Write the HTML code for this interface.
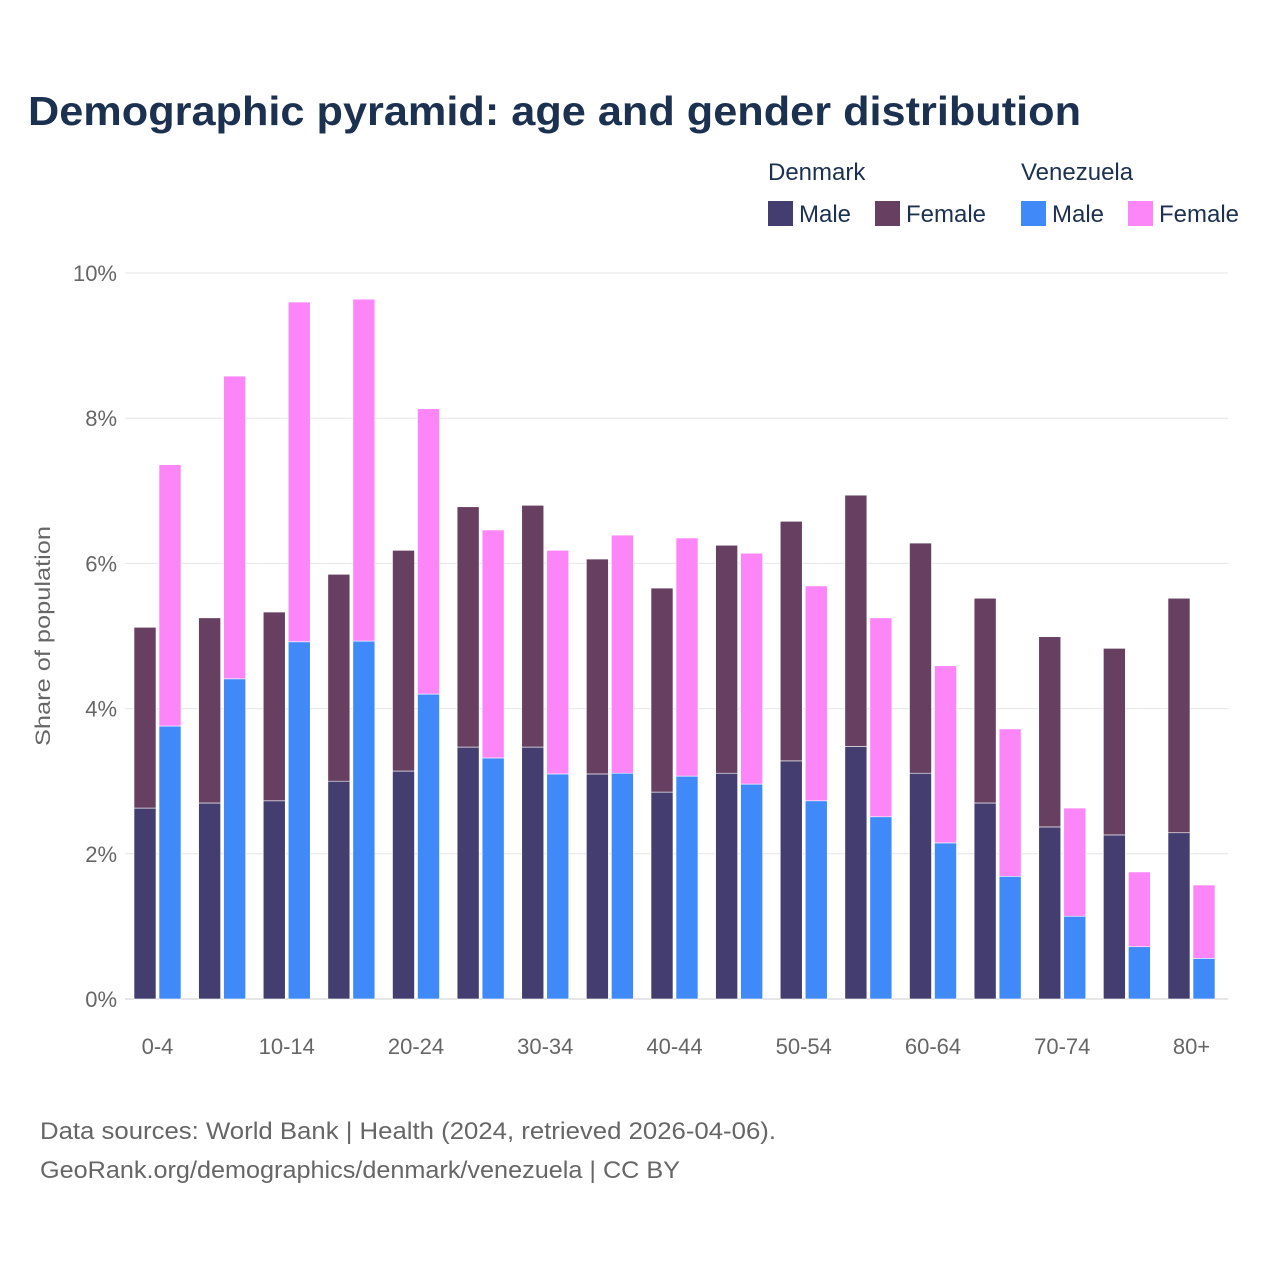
<!DOCTYPE html>
<html><head><meta charset="utf-8"><style>
body{margin:0;background:#fff;font-family:"Liberation Sans",sans-serif}
svg text{font-family:"Liberation Sans",sans-serif}
</style></head><body>
<svg id="chart" width="1280" height="1280" viewBox="0 0 1280 1280">
<text x="28" y="125" font-size="41" font-weight="bold" fill="#1c3050" textLength="1053" lengthAdjust="spacingAndGlyphs">Demographic pyramid: age and gender distribution</text>
<g font-size="24" fill="#1c3050">
<text x="768" y="180">Denmark</text>
<text x="1021" y="180">Venezuela</text>
<g><rect x="768" y="201" width="25" height="25" fill="#433e6f"/><text x="799" y="222">Male</text></g>
<g><rect x="875" y="201" width="25" height="25" fill="#673f60"/><text x="906" y="222">Female</text></g>
<g><rect x="1021" y="201" width="25" height="25" fill="#3f8af8"/><text x="1052" y="222">Male</text></g>
<g><rect x="1128" y="201" width="25" height="25" fill="#fc86f8"/><text x="1159" y="222">Female</text></g>
</g>
<g id="grid"></g><g id="bars"></g><g id="axes"></g>
<text transform="translate(50,636) rotate(-90)" text-anchor="middle" font-size="21" fill="#666" textLength="220" lengthAdjust="spacingAndGlyphs">Share of population</text>
<text x="40" y="1139" font-size="24" fill="#666" textLength="736" lengthAdjust="spacingAndGlyphs">Data sources: World Bank | Health (2024, retrieved 2026-04-06).</text>
<text x="40" y="1178" font-size="24" fill="#666" textLength="640" lengthAdjust="spacingAndGlyphs">GeoRank.org/demographics/denmark/venezuela | CC BY</text>
</svg>
<script>
const categories=["0-4","5-9","10-14","15-19","20-24","25-29","30-34","35-39","40-44","45-49","50-54","55-59","60-64","65-69","70-74","75-79","80+"];
const dkMale=[2.63,2.70,2.73,3.00,3.14,3.47,3.47,3.10,2.85,3.11,3.28,3.48,3.11,2.70,2.37,2.26,2.29];
const dkFemale=[2.49,2.55,2.60,2.85,3.04,3.31,3.33,2.96,2.81,3.14,3.30,3.46,3.17,2.82,2.62,2.57,3.23];
const veMale=[3.76,4.41,4.92,4.93,4.20,3.32,3.10,3.11,3.07,2.96,2.73,2.51,2.15,1.69,1.14,0.72,0.56];
const veFemale=[3.60,4.17,4.68,4.71,3.93,3.14,3.08,3.28,3.28,3.18,2.96,2.74,2.44,2.03,1.49,1.03,1.01];
const yTicks=[0,2,4,6,8,10];
const NS="http://www.w3.org/2000/svg";
const x0=125,x1=1228,y0=999,y1=273,yMax=10;
const first=134,band=64.625;
const y=v=>y0-(v/yMax)*(y0-y1);
const xb=i=>first+i*band;
function mk(t,a,p){const e=document.createElementNS(NS,t);for(const k in a)e.setAttribute(k,a[k]);p.appendChild(e);return e;}
const grid=document.getElementById('grid'),bars=document.getElementById('bars'),axes=document.getElementById('axes');
yTicks.forEach(t=>{
 const l=mk('line',{x1:x0,x2:x1,y1:y(t),y2:y(t),stroke:t===0?'#ccc':'#e6e6e6','stroke-width':1},grid);
 
 
 const tx=mk('text',{x:117,y:y(t)+8,'text-anchor':'end','font-size':22,fill:'#666'},axes);
 tx.textContent=t+'%';
 
 
});
function bar(x,v0,v1,c,name){
 const r=mk('rect',{x:x,y:y(v1),width:22,height:y(v0)-y(v1),fill:c,stroke:'#fff','stroke-width':0.6},bars);
 
 
}
categories.forEach((c,i)=>{
 const bx=xb(i);
 bar(bx,0,dkMale[i],'#433e6f','bar-denmark-male-'+c);
 bar(bx,dkMale[i],dkMale[i]+dkFemale[i],'#673f60','bar-denmark-female-'+c);
 bar(bx+25,0,veMale[i],'#3f8af8','bar-venezuela-male-'+c);
 bar(bx+25,veMale[i],veMale[i]+veFemale[i],'#fc86f8','bar-venezuela-female-'+c);
 if(i%2===0){
  const t=mk('text',{x:bx+23.5,y:1054,'text-anchor':'middle','font-size':22,fill:'#666'},axes);
  t.textContent=c;
  
  
 }
});
</script>
</body></html>
